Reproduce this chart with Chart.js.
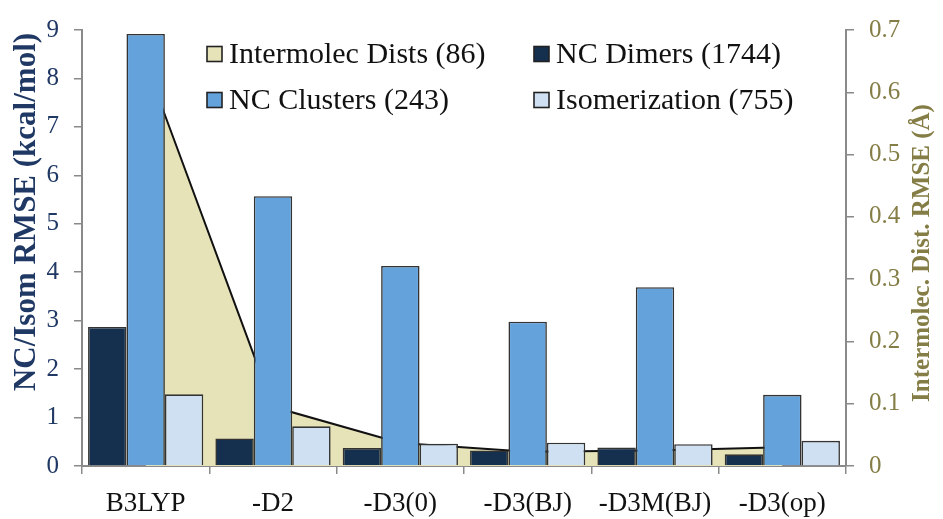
<!DOCTYPE html>
<html>
<head>
<meta charset="utf-8">
<script src="https://cdn.jsdelivr.net/npm/chart.js@4/dist/chart.umd.min.js"></script>
<style>
  html, body { margin: 0; padding: 0; background: #ffffff; }
  #wrap { width: 943px; height: 519px; }
</style>
</head>
<body>
<div id="wrap"><canvas id="c" width="943" height="519"></canvas></div>
<script>
// Functional variants along the x axis
const categories = ['B3LYP', '-D2', '-D3(0)', '-D3(BJ)', '-D3M(BJ)', '-D3(op)'];

// Energy RMSE values (kcal/mol), left axis
const ncDimers      = [2.87, 0.57, 0.37, 0.32, 0.38, 0.24];
const ncClusters    = [8.92, 5.57, 4.13, 2.98, 3.69, 1.47];
const isomerization = [1.48, 0.82, 0.46, 0.48, 0.45, 0.52];

// Intermolecular distance RMSE values (Å), right axis
const intermolecDists = [0.647, 0.095, 0.037, 0.023, 0.025, 0.030];

// Axis tick ranges
const leftTicks  = [0, 1, 2, 3, 4, 5, 6, 7, 8, 9];
const rightTicks = [0, 0.1, 0.2, 0.3, 0.4, 0.5, 0.6, 0.7];

// Series labels
const seriesLabels = {
  dists: 'Intermolec Dists (86)',
  dimers: 'NC Dimers (1744)',
  clusters: 'NC Clusters (243)',
  isom: 'Isomerization (755)'
};

const SERIF = "'Liberation Serif', 'Times New Roman', serif";
const NAVY = '#1f3864';
const OLIVE = '#847d45';
const AXIS_GREY = '#8a8a8a';
const BAR_EDGE = '#333333';

// Two-column legend drawn inside the plot area
const gridLegend = {
  id: 'gridLegend',
  afterDatasetsDraw(chart) {
    const ctx = chart.ctx;
    const ds = chart.data.datasets;
    const items = [
      { d: ds[3], x: 207, y: 54 },
      { d: ds[0], x: 534, y: 54 },
      { d: ds[1], x: 207, y: 100 },
      { d: ds[2], x: 534, y: 100 }
    ];
    ctx.save();
    ctx.font = '30px ' + SERIF;
    ctx.textBaseline = 'middle';
    ctx.textAlign = 'left';
    items.forEach(it => {
      ctx.fillStyle = it.d.backgroundColor;
      ctx.fillRect(it.x, it.y - 7.5, 15, 15);
      ctx.lineWidth = 1.6;
      ctx.strokeStyle = '#222222';
      ctx.strokeRect(it.x, it.y - 7.5, 15, 15);
      ctx.fillStyle = '#111111';
      ctx.fillText(it.d.label, it.x + 22, it.y + 1);
    });
    ctx.restore();
  }
};

// Rotated axis titles, both reading bottom to top
const axisTitles = {
  id: 'axisTitles',
  afterDraw(chart) {
    const ctx = chart.ctx;
    ctx.save();
    ctx.textAlign = 'center';
    ctx.textBaseline = 'middle';

    ctx.save();
    ctx.translate(27, 212);
    ctx.rotate(-Math.PI / 2);
    ctx.font = 'bold 31px ' + SERIF;
    ctx.fillStyle = NAVY;
    ctx.fillText('NC/Isom RMSE (kcal/mol)', 0, 0);
    ctx.restore();

    ctx.save();
    ctx.translate(923, 253);
    ctx.rotate(-Math.PI / 2);
    ctx.font = 'bold 25px ' + SERIF;
    ctx.fillStyle = OLIVE;
    ctx.fillText('Intermolec. Dist. RMSE (Å)', 0, 0);
    ctx.restore();

    ctx.restore();
  }
};

const barCommon = {
  type: 'bar',
  yAxisID: 'y',
  borderColor: BAR_EDGE,
  borderWidth: 1.6,
  borderSkipped: 'bottom',
  barPercentage: 1.0,
  categoryPercentage: 0.905,
  order: 1
};

new Chart(document.getElementById('c'), {
  data: {
    labels: categories,
    datasets: [
      Object.assign({}, barCommon, { label: seriesLabels.dimers,   data: ncDimers,      backgroundColor: '#15304f' }),
      Object.assign({}, barCommon, { label: seriesLabels.clusters, data: ncClusters,    backgroundColor: '#64a2dc' }),
      Object.assign({}, barCommon, { label: seriesLabels.isom,     data: isomerization, backgroundColor: '#cfe0f3' }),
      {
        type: 'line',
        label: seriesLabels.dists,
        data: intermolecDists,
        yAxisID: 'y2',
        backgroundColor: '#e6e3b9',
        borderColor: '#111111',
        borderWidth: 2,
        pointRadius: 0,
        tension: 0,
        fill: 'origin',
        order: 10
      }
    ]
  },
  options: {
    responsive: false,
    devicePixelRatio: 1,
    animation: false,
    layout: { padding: { top: 22, left: 0, right: 0, bottom: 0 } },
    plugins: {
      legend: { display: false },
      tooltip: { enabled: false },
      title: { display: false }
    },
    scales: {
      x: {
        type: 'category',
        offset: true,
        grid: {
          display: true,
          offset: true,
          drawOnChartArea: false,
          drawTicks: true,
          tickLength: 8,
          color: AXIS_GREY,
          lineWidth: 1.5
        },
        border: { display: true, color: AXIS_GREY, width: 2 },
        ticks: {
          color: '#111111',
          font: { family: SERIF, size: 27 },
          padding: 14,
          maxRotation: 0,
          autoSkip: false
        },
        afterFit(scale) { scale.height = 53; }
      },
      y: {
        position: 'left',
        min: leftTicks[0],
        max: leftTicks[leftTicks.length - 1],
        afterBuildTicks(scale) { scale.ticks = leftTicks.map(v => ({ value: v })); },
        grid: {
          display: true,
          drawOnChartArea: false,
          drawTicks: true,
          tickLength: 8,
          color: AXIS_GREY,
          lineWidth: 1.5
        },
        border: { display: true, color: AXIS_GREY, width: 2 },
        ticks: {
          color: NAVY,
          font: { family: SERIF, size: 25 },
          padding: 15,
          callback: v => String(v)
        },
        afterFit(scale) { scale.width = 82; }
      },
      y2: {
        position: 'right',
        min: rightTicks[0],
        max: rightTicks[rightTicks.length - 1],
        afterBuildTicks(scale) { scale.ticks = rightTicks.map(v => ({ value: v })); },
        grid: {
          display: true,
          drawOnChartArea: false,
          drawTicks: true,
          tickLength: 8,
          color: AXIS_GREY,
          lineWidth: 1.5
        },
        border: { display: true, color: AXIS_GREY, width: 2 },
        ticks: {
          color: OLIVE,
          font: { family: SERIF, size: 25 },
          padding: 15,
          callback: v => (v === 0 ? '0' : Number(v).toFixed(1))
        },
        afterFit(scale) { scale.width = 97; }
      }
    }
  },
  plugins: [gridLegend, axisTitles]
});
</script>
</body>
</html>
